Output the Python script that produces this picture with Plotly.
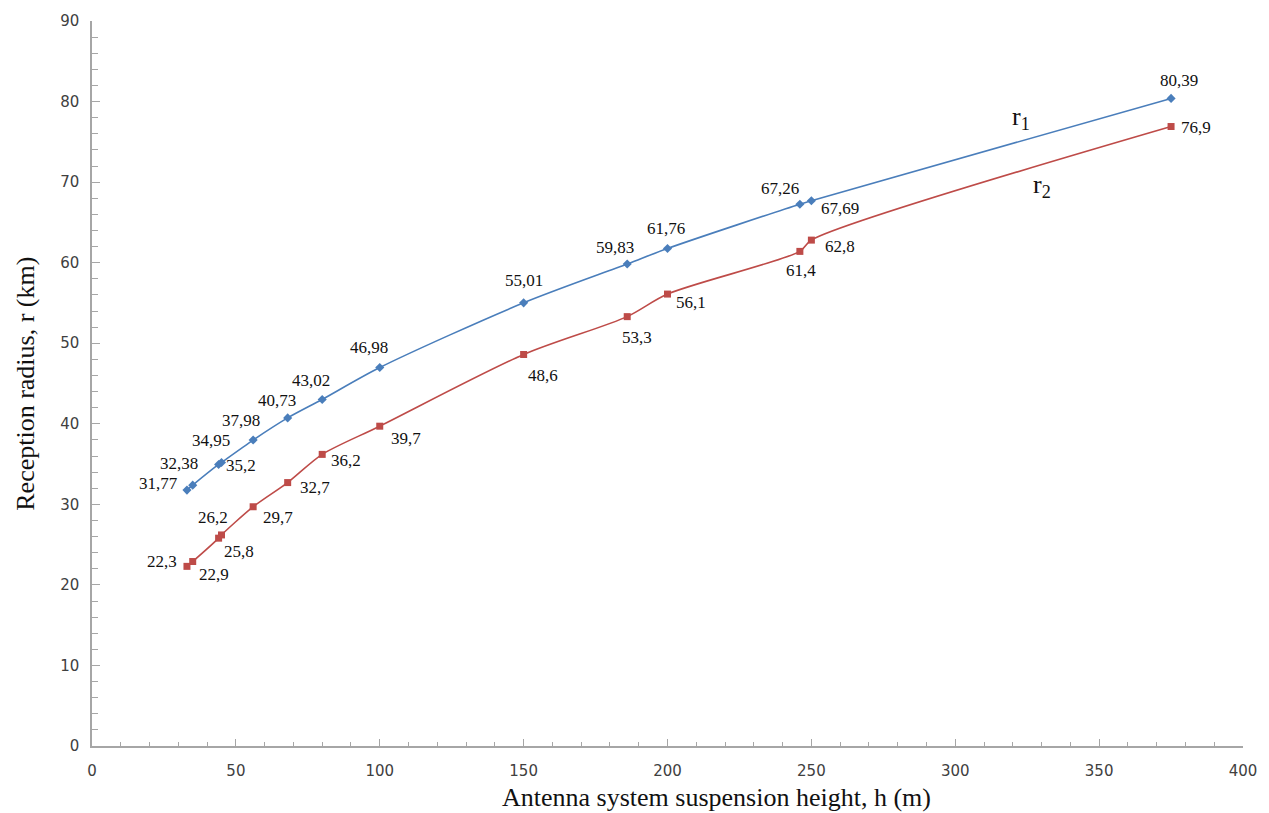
import plotly.graph_objects as go

# Antenna suspension height (m)
heights = [33, 35, 44, 45, 56, 68, 80, 100, 150, 186, 200, 246, 250, 375]
# Reception radius, r1 and r2 (km)
r1 = [31.77, 32.38, 34.95, 35.2, 37.98, 40.73, 43.02, 46.98, 55.01, 59.83, 61.76, 67.26, 67.69, 80.39]
r2 = [22.3, 22.9, 25.8, 26.2, 29.7, 32.7, 36.2, 39.7, 48.6, 53.3, 56.1, 61.4, 62.8, 76.9]

# Pixel offsets of each value label from its marker (dx right, dy down)
r1_offsets = [(-28, -7), (-14, -22), (-8, -24), (20, 3), (-12, -20), (-11, -17), (-11, -19),
              (-11, -20), (0, -22), (-12, -17), (-2, -20), (-20, -16), (29, 8), (8, -18)]
r2_offsets = [(-25, -5), (21, 13), (20, 13), (-8, -17), (25, 11), (27, 5), (24, 6),
              (26, 12), (19, 21), (10, 21), (23, 8), (1, 19), (29, 6), (25, 1)]


def fmt(v):
    return f"{v:g}".replace(".", ",")


BLUE = "#4a7ebb"
RED = "#be4b48"
AXIS = "#a6a6a6"
SERIF = "Liberation Serif"
label_font = dict(family=SERIF, size=17, color="#111111")

fig = go.Figure()
fig.add_trace(go.Scatter(
    x=heights, y=r1, mode="lines+markers", name="r1",
    line=dict(color=BLUE, width=1.6, shape="spline", smoothing=0.8),
    marker=dict(symbol="diamond", size=7, color=BLUE),
))
fig.add_trace(go.Scatter(
    x=heights, y=r2, mode="lines+markers", name="r2",
    line=dict(color=RED, width=1.6, shape="spline", smoothing=0.8),
    marker=dict(symbol="square", size=7, color=RED),
))

# Value labels
for xs, ys, offs in ((heights, r1, r1_offsets), (heights, r2, r2_offsets)):
    for xv, yv, (dx, dy) in zip(xs, ys, offs):
        fig.add_annotation(x=xv, y=yv, text=fmt(yv), showarrow=False,
                           xshift=dx, yshift=-dy, font=label_font)

# Curve names
fig.add_annotation(x=323, y=78, text="r<sub>1</sub>", showarrow=False,
                   font=dict(family=SERIF, size=26, color="#111111"))
fig.add_annotation(x=330, y=69.5, text="r<sub>2</sub>", showarrow=False,
                   font=dict(family=SERIF, size=26, color="#111111"))

# Axis titles
fig.add_annotation(xref="paper", yref="paper", x=0.543, y=-0.071, yanchor="middle",
                   text="Antenna system suspension height, h (m)", showarrow=False,
                   font=dict(family=SERIF, size=26, color="#111111"))
fig.add_annotation(xref="paper", yref="paper", x=-0.058, y=0.5, xanchor="center",
                   yanchor="middle", textangle=-90,
                   text="Reception radius, r (km)", showarrow=False,
                   font=dict(family=SERIF, size=26, color="#111111"))

tick_font = dict(family="DejaVu Sans", size=15, color="#404040")
fig.update_xaxes(
    range=[0, 400], dtick=50, showgrid=False, zeroline=False,
    showline=True, linecolor=AXIS, linewidth=1.5,
    ticks="inside", ticklen=7, tickcolor=AXIS, tickwidth=1.2,
    minor=dict(dtick=10, ticks="inside", ticklen=4, tickcolor=AXIS, tickwidth=1),
    tickfont=tick_font, ticklabelstandoff=10,
)
fig.update_yaxes(
    range=[0, 90], dtick=10, showgrid=False, zeroline=False,
    showline=True, linecolor=AXIS, linewidth=1.5,
    ticks="inside", ticklen=8, tickcolor=AXIS, tickwidth=1.2,
    minor=dict(dtick=2, ticks="inside", ticklen=6, tickcolor=AXIS, tickwidth=1),
    tickfont=tick_font, ticklabelstandoff=8,
)
fig.update_layout(
    width=1269, height=813,
    margin=dict(l=92, r=26, t=17, b=67),
    plot_bgcolor="white", paper_bgcolor="white",
    showlegend=False,
)
fig.write_html("out.html")
